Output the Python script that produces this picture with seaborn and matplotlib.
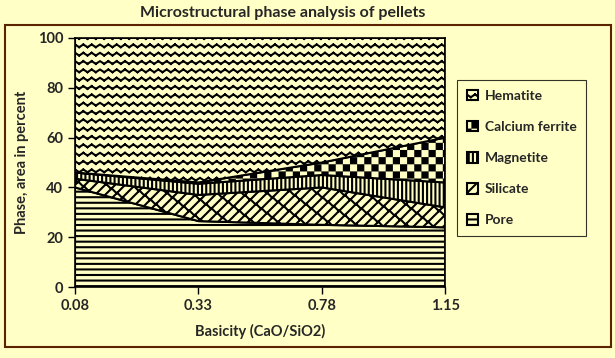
import matplotlib
matplotlib.use("Agg")
import matplotlib.pyplot as plt
import matplotlib.hatch as mhatch
from matplotlib.path import Path
from matplotlib.patches import Rectangle
import seaborn as sns
import pandas as pd

# Data (percent area)
basicity = ["0.08", "0.33", "0.78", "1.15"]
pore = [40, 26.5, 25, 24]
silicate = [3.5, 10.5, 15, 8]
magnetite = [2.5, 4.5, 5, 10]
calcium_ferrite = [0, 0.5, 5, 18]
hematite = [100 - p - s - m - c for p, s, m, c in zip(pore, silicate, magnetite, calcium_ferrite)]

phases = ["Pore", "Silicate", "Magnetite", "Calcium ferrite", "Hematite"]
df = pd.DataFrame({"Pore": pore, "Silicate": silicate, "Magnetite": magnetite,
                   "Calcium ferrite": calcium_ferrite, "Hematite": hematite}, index=basicity)

MOVE, LINE, CLOSE = Path.MOVETO, Path.LINETO, Path.CLOSEPOLY


# Checkerboard hatch (takes the place of 'o')
class CheckerHatch(mhatch.HatchPatternBase):
    def __init__(self, hatch, density):
        self.n = 14 if "o" in hatch else 0
        self.num_vertices = (self.n * self.n // 2) * 5

    def set_vertices_and_codes(self, vertices, codes):
        step = 1.0 / self.n
        pad = 0.01  # the hatch stroke makes the squares grow a bit
        k = 0
        for i in range(self.n):
            for j in range(self.n):
                if (i + j) % 2 == 0:
                    x0, y0 = i * step + pad, j * step + pad
                    x1, y1 = (i + 1) * step - pad, (j + 1) * step - pad
                    vertices[k:k + 5] = [(x0, y0), (x1, y0), (x1, y1), (x0, y1), (x0, y0)]
                    codes[k:k + 5] = [MOVE, LINE, LINE, LINE, CLOSE]
                    k += 5


# Zigzag hatch (takes the place of 'O')
class ZigzagHatch(mhatch.HatchPatternBase):
    def __init__(self, hatch, density):
        self.rows = 12 if "O" in hatch else 0
        self.cols = 12
        self.num_vertices = self.rows * self.cols * 4

    def set_vertices_and_codes(self, vertices, codes):
        amp = 0.16 / self.rows
        k = 0
        for r in range(self.rows):
            y = (r + 0.5) / self.rows
            for c in range(self.cols):
                x0, xm, x1 = c / self.cols, (c + 0.5) / self.cols, (c + 1) / self.cols
                vertices[k:k + 4] = [(x0, y + amp), (xm, y - amp), (xm, y - amp), (x1, y + amp)]
                codes[k:k + 4] = [MOVE, LINE, MOVE, LINE]
                k += 4


# Diagonal bricks (takes the place of '.')
class BrickHatch(mhatch.HatchPatternBase):
    def __init__(self, hatch, density):
        self.lines = 10 if "." in hatch else 0
        self.per_line = 9
        self.num_vertices = self.lines * 4 + self.lines * self.per_line * 9 * 2

    def set_vertices_and_codes(self, vertices, codes):
        n = self.lines
        d = 0.5 / n
        k = 0
        for r in range(n):
            c = r / n
            vertices[k:k + 4] = [(0, c), (1, 1 + c), (0, c - 1), (1, c)]
            codes[k:k + 4] = [MOVE, LINE, MOVE, LINE]
            k += 4
        for r in range(n):
            for j in range(self.per_line):
                t = (j + 0.5 * (r % 2)) / self.per_line
                x0, y0 = t % 1.0, (t + r / n) % 1.0
                for ox in (-1, 0, 1):
                    for oy in (-1, 0, 1):
                        vertices[k:k + 2] = [(x0 + ox, y0 + oy), (x0 + ox - d, y0 + oy + d)]
                        codes[k:k + 2] = [MOVE, LINE]
                        k += 2


swap = {mhatch.SmallCircles: CheckerHatch, mhatch.LargeCircles: ZigzagHatch,
        mhatch.SmallFilledCircles: BrickHatch}
mhatch._hatch_types = [swap.get(t, t) for t in mhatch._hatch_types]

bg = "#FFFFC6"
hatches = {"Pore": "---", "Silicate": ".", "Magnetite": "||||",
           "Calcium ferrite": "o", "Hematite": "O"}

sns.set_style("white")
plt.rcParams["font.family"] = ["Lato", "DejaVu Sans"]
plt.rcParams["font.weight"] = "bold"
plt.rcParams["hatch.linewidth"] = 1.5
plt.rcParams["hatch.color"] = "black"

fig = plt.figure(figsize=(6.15, 3.58), dpi=100, facecolor=bg)
ax = fig.add_axes([0.122, 0.198, 0.602, 0.696])
ax.set_facecolor(bg)

x = range(len(basicity))
polys = ax.stackplot(x, [df[p] for p in phases], colors=[bg] * 5,
                     edgecolor="black", linewidth=1.5, labels=phases)
for poly, name in zip(polys, phases):
    poly.set_hatch(hatches[name])

ax.set_xlim(0, len(basicity) - 1)
ax.set_ylim(0, 100)
ax.set_xticks(list(x))
ax.set_xticklabels(basicity)
ax.set_yticks(range(0, 101, 20))
ax.tick_params(axis="both", direction="out", length=5, width=1, color="black",
               labelsize=10.5, bottom=True, left=True)
for lbl in ax.get_xticklabels() + ax.get_yticklabels():
    lbl.set_fontweight("bold")
for s in ax.spines.values():
    s.set_color("black")
    s.set_linewidth(1.2)

ax.set_xlabel("Basicity (CaO/SiO2)", fontsize=10.5, fontweight="bold", labelpad=8)
ax.set_ylabel("Phase, area in percent", fontsize=10.5, fontweight="bold", labelpad=6)
fig.text(0.46, 0.965, "Microstructural phase analysis of pellets", ha="center", va="center",
         fontsize=11.5, fontweight="bold")

# legend in reverse order (Hematite on top)
handles, labels = ax.get_legend_handles_labels()
leg = fig.legend(handles[::-1], labels[::-1], loc="upper left",
                 bbox_to_anchor=(0.743, 0.777), frameon=True, fancybox=False,
                 edgecolor="black", facecolor=bg, fontsize=10, labelspacing=1.37,
                 handlelength=0.8, handleheight=0.8, handletextpad=0.5,
                 borderpad=0.7, borderaxespad=0)
leg.get_frame().set_linewidth(0.8)
for t in leg.get_texts():
    t.set_fontweight("bold")

# outer chart border
fig.patches.append(Rectangle((0.008, 0.031), 0.985, 0.899, transform=fig.transFigure,
                             fill=False, edgecolor="#5C2300", linewidth=1.5))

fig.savefig("out.png", dpi=100, facecolor=bg)
